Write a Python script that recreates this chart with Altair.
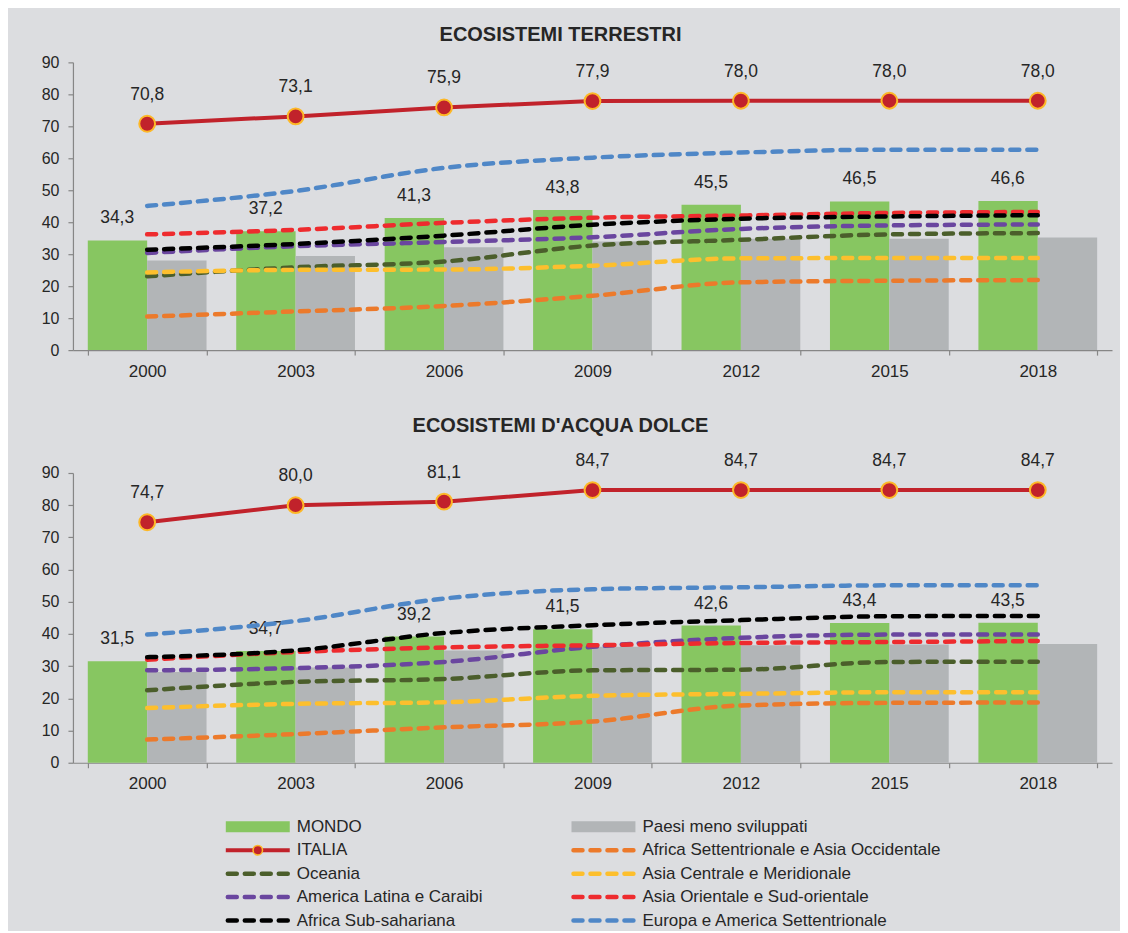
import altair as alt
import pandas as pd

years = ["2000", "2003", "2006", "2009", "2012", "2015", "2018"]

# ---- ECOSISTEMI TERRESTRI ----
mondo_t = [34.3, 37.2, 41.3, 43.8, 45.5, 46.5, 46.6]
pms_t = [28.0, 29.4, 32.2, 34.0, 34.8, 34.8, 35.2]
italia_t = [70.8, 73.1, 75.9, 77.9, 78.0, 78.0, 78.0]
africa_sett_t = [10.5, 12.1, 13.8, 17.0, 21.2, 21.7, 21.9]
oceania_t = [23.1, 25.9, 27.7, 32.7, 34.5, 36.2, 36.6]
asia_centr_t = [24.3, 25.1, 25.2, 26.4, 28.7, 28.8, 28.8]
america_lat_t = [30.4, 32.5, 33.8, 35.3, 37.9, 39.0, 39.3]
asia_orient_t = [36.2, 37.6, 39.8, 41.4, 42.1, 42.9, 43.2]
africa_sub_t = [31.4, 33.2, 35.8, 39.2, 41.1, 41.8, 42.2]
europa_t = [45.1, 49.8, 57.0, 60.2, 61.8, 62.7, 62.7]

# ---- ECOSISTEMI D'ACQUA DOLCE ----
mondo_b = [31.5, 34.7, 39.2, 41.5, 42.6, 43.4, 43.5]
pms_b = [28.2, 29.6, 34.9, 36.0, 36.5, 36.7, 36.9]
italia_b = [74.7, 80.0, 81.1, 84.7, 84.7, 84.7, 84.7]
africa_sett_b = [7.2, 8.9, 11.0, 12.8, 17.8, 18.6, 18.7]
oceania_b = [22.5, 25.1, 26.0, 28.7, 28.9, 31.3, 31.4]
asia_centr_b = [17.0, 18.3, 18.8, 20.8, 21.4, 21.9, 21.9]
america_lat_b = [28.7, 29.4, 31.3, 36.0, 38.8, 39.8, 39.8]
asia_orient_b = [32.0, 34.4, 35.8, 36.5, 37.2, 37.5, 37.8]
africa_sub_b = [32.8, 34.9, 40.3, 42.7, 44.3, 45.5, 45.6]
europa_b = [39.8, 44.0, 51.0, 53.9, 54.5, 55.1, 55.1]

bar_series = ["MONDO", "Paesi meno sviluppati"]
bar_colors = ["#87c661", "#b2b5b7"]

region_names = [
    "Africa Settentrionale e Asia Occidentale",
    "Oceania",
    "Asia Centrale e Meridionale",
    "America Latina e Caraibi",
    "Asia Orientale e Sud-orientale",
    "Africa Sub-sahariana",
    "Europa e America Settentrionale",
]
region_colors = ["#ec7a2b", "#4b5e2b", "#fdbf2d", "#6a469f", "#ee2b2e", "#000000", "#4f87c7"]

ITALIA_RED = "#c1222b"
ITALIA_RING = "#fdb827"
FONT = "Liberation Sans"
TEXT = "#262626"

legend_col0 = ["MONDO", "ITALIA", "Oceania", "America Latina e Caraibi", "Africa Sub-sahariana"]
legend_col1 = ["Paesi meno sviluppati", "Africa Settentrionale e Asia Occidentale",
               "Asia Centrale e Meridionale", "Asia Orientale e Sud-orientale",
               "Europa e America Settentrionale"]


def fmt(v):
    return f"{v:.1f}".replace(".", ",")


x_scale = alt.Scale(domain=years, paddingInner=0.2, paddingOuter=0.1)


def panel(title, mondo, pms, italia, regions, h, title_offset):
    bars = pd.DataFrame(
        [{"year": y, "serie": s, "value": v}
         for s, vals in zip(bar_series, [mondo, pms]) for y, v in zip(years, vals)]
    )
    mlab = pd.DataFrame({"year": years, "value": mondo, "label": [fmt(v) for v in mondo]})
    ita = pd.DataFrame({"year": years, "value": italia, "label": [fmt(v) for v in italia]})
    lines = pd.DataFrame(
        [{"year": y, "region": r, "value": v, "order": i}
         for i, (r, vals) in enumerate(zip(region_names, regions)) for y, v in zip(years, vals)]
    )

    x_enc = alt.X("year:N", scale=x_scale, sort=years,
                  axis=alt.Axis(title=None, labelAngle=0, tickBand="extent",
                                labelFontSize=17, labelPadding=8, tickSize=5))
    y_enc = alt.Y("value:Q", scale=alt.Scale(domain=[0, 90], nice=False),
                  axis=alt.Axis(title=None, values=list(range(0, 91, 10)), grid=False,
                                labelFontSize=16, labelPadding=9, tickSize=5,
                                labelOverlap=False, labelFlush=False))

    bar_layer = alt.Chart(bars).mark_bar().encode(
        x=x_enc,
        xOffset=alt.XOffset("serie:N", scale=alt.Scale(domain=bar_series, paddingInner=0, paddingOuter=0)),
        y=y_enc,
        color=alt.Color("serie:N", scale=alt.Scale(domain=bar_series, range=bar_colors), legend=None),
    )
    bar_text = alt.Chart(mlab).mark_text(
        dx=-30, dy=-22, baseline="middle", align="center", fontSize=17.5, font=FONT, color=TEXT
    ).encode(x=x_enc, y=y_enc, text="label:N")

    line_layer = alt.Chart(lines).mark_line(
        strokeWidth=4.5, strokeDash=[9, 8], strokeCap="round", interpolate="monotone"
    ).encode(
        x=x_enc,
        y=y_enc,
        color=alt.Color("region:N", scale=alt.Scale(domain=region_names, range=region_colors), legend=None),
        detail="region:N",
    )

    ita_line = alt.Chart(ita).mark_line(color=ITALIA_RED, strokeWidth=4, interpolate="linear").encode(
        x=x_enc, y=y_enc)
    ita_pts = alt.Chart(ita).mark_point(
        shape="circle", filled=True, fill=ITALIA_RED, stroke=ITALIA_RING, strokeWidth=2,
        size=250, opacity=1
    ).encode(x=x_enc, y=y_enc)
    ita_text = alt.Chart(ita).mark_text(
        dy=-29, baseline="middle", align="center", fontSize=17.5, font=FONT, color=TEXT
    ).encode(x=x_enc, y=y_enc, text="label:N")

    return alt.layer(bar_layer, bar_text, line_layer, ita_line, ita_pts, ita_text).resolve_scale(
        color="independent"
    ).properties(
        width=1040, height=h,
        title=alt.TitleParams(title, fontSize=20, font=FONT, fontWeight="bold", color=TEXT,
                              anchor="middle", dx=-32, offset=title_offset),
    )


top = panel("ECOSISTEMI TERRESTRI", mondo_t, pms_t, italia_t,
            [africa_sett_t, oceania_t, asia_centr_t, america_lat_t, asia_orient_t, africa_sub_t, europa_t],
            288, 9)
bottom = panel("ECOSISTEMI D'ACQUA DOLCE", mondo_b, pms_b, italia_b,
               [africa_sett_b, oceania_b, asia_centr_b, america_lat_b, asia_orient_b, africa_sub_b, europa_b],
               290, 16)

# ---- legend ----
all_labels = legend_col0 + legend_col1
all_colors_map = dict(zip(bar_series, bar_colors))
all_colors_map.update(dict(zip(region_names, region_colors)))
all_colors_map["ITALIA"] = ITALIA_RED
leg = pd.DataFrame(
    [{"label": lab, "col": c, "row": r,
      "kind": "bar" if lab in bar_series else ("italia" if lab == "ITALIA" else "dash")}
     for c, col in enumerate([legend_col0, legend_col1]) for r, lab in enumerate(col)]
)
leg_colors = [all_colors_map[l] for l in all_labels]

lx = alt.X("col:Q", scale=alt.Scale(domain=[0, 1], range=[153, 499]), axis=None)
lx2 = alt.X2("col:Q")
ly = alt.Y("row:Q", scale=alt.Scale(domain=[0, 4], range=[0, 94]), axis=None)
lcol = alt.Color("label:N", scale=alt.Scale(domain=all_labels, range=leg_colors), legend=None)

base = alt.Chart(leg)
leg_bar = base.transform_filter("datum.kind == 'bar'").mark_rule(strokeWidth=11, x2Offset=64).encode(
    x=lx, x2=lx2, y=ly, color=lcol)
leg_dash = base.transform_filter("datum.kind == 'dash'").mark_rule(
    strokeWidth=4.5, strokeDash=[9, 8], strokeCap="round", xOffset=2, x2Offset=64).encode(
    x=lx, x2=lx2, y=ly, color=lcol)
leg_ita = base.transform_filter("datum.kind == 'italia'").mark_rule(
    strokeWidth=4, color=ITALIA_RED, x2Offset=64).encode(x=lx, x2=lx2, y=ly)
leg_ita_pt = base.transform_filter("datum.kind == 'italia'").mark_point(
    shape="circle", filled=True, fill=ITALIA_RED, stroke=ITALIA_RING, strokeWidth=1.5,
    size=90, opacity=1, xOffset=32).encode(x=lx, y=ly)
leg_text = base.mark_text(align="left", baseline="middle", dx=71, fontSize=17, font=FONT,
                          color=TEXT).encode(x=lx, y=ly, text="label:N")

legend = alt.layer(leg_bar, leg_dash, leg_ita, leg_ita_pt, leg_text).properties(width=1040, height=94)

charts = alt.vconcat(top, bottom, spacing=37)
chart = alt.vconcat(charts, legend, spacing=26).configure(
    background="#dcdde0",
    padding={"left": 33, "top": 17, "right": 8, "bottom": 2},
    font=FONT,
).configure_view(stroke=None).configure_axis(
    domainColor="#868686", tickColor="#868686", labelColor=TEXT, labelFont=FONT,
    domainWidth=1.2, tickWidth=1.2,
)

chart.save("out.html", embed_options={"renderer": "svg", "actions": False})
